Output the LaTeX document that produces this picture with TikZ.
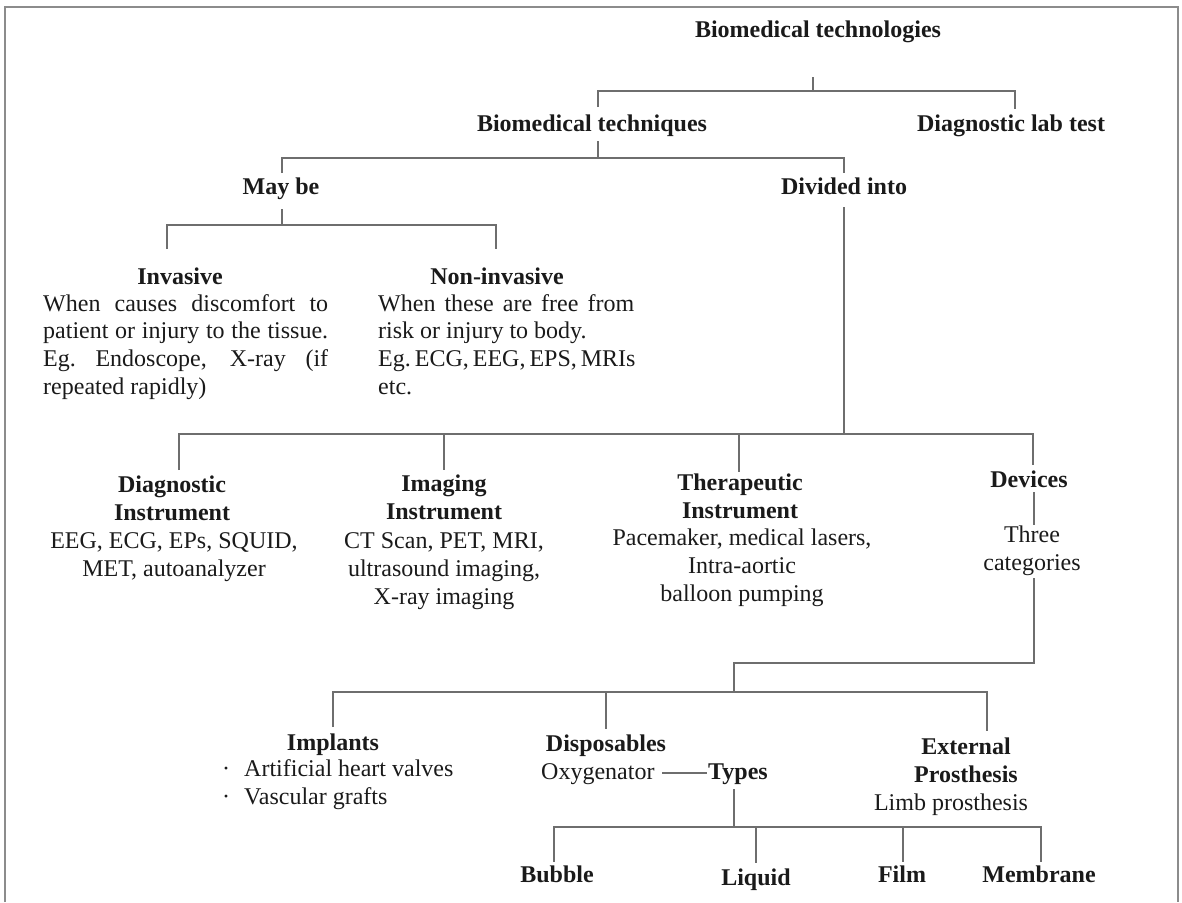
\documentclass[tikz,border=0pt]{standalone}
\usepackage{fontspec}
\setmainfont{Liberation Serif}
\definecolor{ink}{HTML}{1A1A1A}
\definecolor{wire}{HTML}{6E6E6E}
\definecolor{framec}{HTML}{8C8C8C}
\begin{document}
\begin{tikzpicture}[x=1pt,y=-1pt,
  every node/.style={inner sep=0pt, text=ink, font=\fontsize{24}{27.6}\selectfont},
  head/.style={font=\fontsize{24}{27.6}\selectfont\bfseries},
  body/.style={font=\fontsize{24}{27.6}\selectfont},
  conn/.style={draw=wire, line width=1.3pt},
  framel/.style={draw=framec, line width=1.5pt}]

\useasboundingbox (0,0) rectangle (1182,902);
% open frame (no bottom edge)
\draw[framel] (5,902) -- (5,7) -- (1178,7) -- (1178,902);

% ---- headings and texts (multi-line nodes sit on their last baseline) ----
\node[head, anchor=base] (top) at (818,37) {Biomedical technologies};
\node[head, anchor=base] (tech) at (592,131) {Biomedical techniques};
\node[head, anchor=base] (lab) at (1011,131) {Diagnostic lab test};
\node[head, anchor=base] (maybe) at (281,194) {May be};
\node[head, anchor=base] (divided) at (844,194) {Divided into};

\node[head, anchor=base] (inv) at (180,284) {Invasive};
\node[head, anchor=base] (noninv) at (497,284) {Non-invasive};
\node[body, anchor=base west, align=left] (invtxt) at (43,394)
  {\makebox[285pt][s]{When causes discomfort to}\\
   \makebox[285pt][s]{patient or injury to the tissue.}\\
   \makebox[285pt][s]{Eg.\ Endoscope, X-ray (if}\\
   repeated rapidly)};
\node[body, anchor=base west, align=left] (noninvtxt) at (378,394)
  {\makebox[256pt][s]{When these are free from}\\
   risk or injury to body.\\
   \makebox[256pt][s]{Eg.\ ECG, EEG, EPS, MRIs}\\
   etc.};

\node[head, anchor=base, align=center] (diag) at (172,520) {Diagnostic\\Instrument};
\node[body, anchor=base, align=center] (diagtxt) at (174,576) {EEG, ECG, EPs, SQUID,\\MET, autoanalyzer};
\node[head, anchor=base, align=center] (imag) at (444,519) {Imaging\\Instrument};
\node[body, anchor=base, align=center] (imagtxt) at (444,604) {CT Scan, PET, MRI,\\ultrasound imaging,\\X-ray imaging};
\node[head, anchor=base, align=center] (ther) at (740,518) {Therapeutic\\Instrument};
\node[body, anchor=base, align=center] (thertxt) at (742,601) {Pacemaker, medical lasers,\\Intra-aortic\\balloon pumping};
\node[head, anchor=base] (dev) at (1029,487) {Devices};
\node[body, anchor=base, align=center] (three) at (1032,570) {Three\\categories};

\node[head, anchor=base] (impl) at (333,750) {Implants};
\node[body, anchor=base west, align=left] (impltxt) at (222,804)
  {\makebox[22pt][l]{·}Artificial heart valves\\\makebox[22pt][l]{·}Vascular grafts};
\node[head, anchor=base] (disp) at (606,751) {Disposables};
\node[body, anchor=base west] (oxy) at (541,779) {Oxygenator};
\node[head, anchor=base west] (types) at (708,779) {Types};
\node[head, anchor=base, align=center] (ext) at (966,782) {External\\Prosthesis};
\node[body, anchor=base] (limb) at (951,810) {Limb prosthesis};

\node[head, anchor=base] (bubble) at (557,882) {Bubble};
\node[head, anchor=base] (liquid) at (756,885) {Liquid};
\node[head, anchor=base] (film) at (902,882) {Film};
\node[head, anchor=base] (membrane) at (1039,882) {Membrane};

% ---- connector junctions ----
\coordinate (s0) at (813,77);   \coordinate (b0) at (813,91);
\coordinate (b0l) at (598,91);  \coordinate (b0r) at (1015,91);
\coordinate (e0l) at (598,107); \coordinate (e0r) at (1015,109);

\coordinate (s1) at (598,141);  \coordinate (b1) at (598,158);
\coordinate (b1l) at (282,158); \coordinate (b1r) at (844,158);
\coordinate (e1l) at (282,173); \coordinate (e1r) at (844,173);

\coordinate (s2) at (282,209);  \coordinate (b2) at (282,225);
\coordinate (b2l) at (167,225); \coordinate (b2r) at (496,225);
\coordinate (e2l) at (167,249); \coordinate (e2r) at (496,249);

\coordinate (s3) at (844,207);  \coordinate (b3) at (844,434);
\coordinate (b3l) at (179,434); \coordinate (b3r) at (1033,434);
\coordinate (b3b) at (444,434); \coordinate (b3c) at (739,434);
\coordinate (e3a) at (179,470); \coordinate (e3b) at (444,470);
\coordinate (e3c) at (739,472); \coordinate (e3d) at (1033,465);

\coordinate (d1) at (1034,492); \coordinate (d2) at (1034,525);
\coordinate (d3) at (1034,578); \coordinate (d4) at (1034,663);
\coordinate (d5) at (734,663);  \coordinate (b4) at (734,692);
\coordinate (b4l) at (333,692); \coordinate (b4m) at (606,692); \coordinate (b4r) at (987,692);
\coordinate (e4a) at (333,727); \coordinate (e4b) at (606,729); \coordinate (e4c) at (987,731);

\coordinate (o1) at (662,773);  \coordinate (o2) at (707,773);
\coordinate (s5) at (734,789);  \coordinate (b5) at (734,827);
\coordinate (b5l) at (554,827); \coordinate (b5r) at (1041,827);
\coordinate (b5b) at (756,827); \coordinate (b5c) at (903,827);
\coordinate (e5a) at (554,862); \coordinate (e5b) at (756,863);
\coordinate (e5c) at (903,862); \coordinate (e5d) at (1041,862);

% ---- connectors ----
\draw[conn] (s0) -- (b0);
\draw[conn] (e0l) -- (b0l) -- (b0r) -- (e0r);

\draw[conn] (s1) -- (b1);
\draw[conn] (e1l) -- (b1l) -- (b1r) -- (e1r);

\draw[conn] (s2) -- (b2);
\draw[conn] (e2l) -- (b2l) -- (b2r) -- (e2r);

\draw[conn] (s3) -- (b3);
\draw[conn] (e3a) -- (b3l) -- (b3r) -- (e3d);
\draw[conn] (b3b) -- (e3b);
\draw[conn] (b3c) -- (e3c);

\draw[conn] (d1) -- (d2);
\draw[conn] (d3) -- (d4) -- (d5) -- (b4);
\draw[conn] (e4a) -- (b4l) -- (b4r) -- (e4c);
\draw[conn] (b4m) -- (e4b);

\draw[conn] (o1) -- (o2);
\draw[conn] (s5) -- (b5);
\draw[conn] (e5a) -- (b5l) -- (b5r) -- (e5d);
\draw[conn] (b5b) -- (e5b);
\draw[conn] (b5c) -- (e5c);
\end{tikzpicture}
\end{document}
